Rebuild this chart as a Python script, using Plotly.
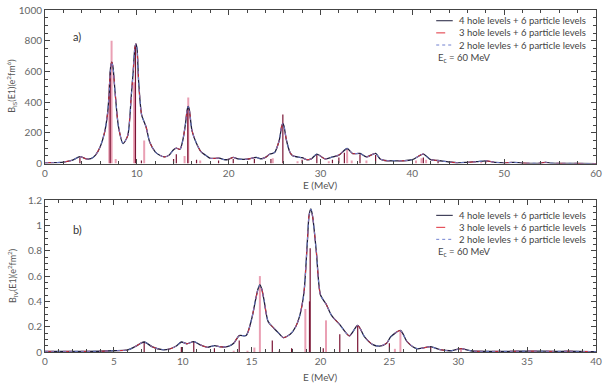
import plotly.graph_objects as go
from plotly.subplots import make_subplots

# ---- panel a) isoscalar strength (read off the picture) ----
is_energy = [0, 1, 2, 3, 3.8, 4.5, 5, 5.5, 6, 6.5, 6.8, 7.0, 7.15, 7.27, 7.4, 7.63, 8, 8.5, 9,
             9.4, 9.6, 9.78, 9.9, 10.02, 10.2, 10.53, 11, 11.4, 12, 12.5, 13, 13.5, 14, 14.3,
             14.7, 15, 15.3, 15.48, 15.6, 15.72, 16, 16.5, 17, 17.5, 18, 19, 19.5, 20, 20.5,
             21, 22, 23, 23.5, 24, 24.5, 25, 25.5, 25.78, 25.9, 26.02, 26.3, 26.7, 27, 28,
             28.5, 29, 29.6, 30.5, 31.3, 32, 32.9, 33.5, 34.3, 35, 36, 36.5, 37, 38, 39, 40,
             41.2, 42, 42.8, 44, 45, 46, 47, 48, 49, 50, 51, 52, 54, 54.5, 55, 58, 60]
is_strength = [5, 6, 10, 22, 45, 30, 32, 55, 108, 206, 320, 466, 630, 660, 630, 466, 240, 130,
               180, 445, 596, 750, 780, 750, 531, 315, 240, 140, 76, 54, 43, 54, 90, 100,
               93, 150, 260, 350, 372, 350, 216, 130, 76, 54, 34, 35, 25, 28, 40,
               30, 28, 40, 30, 40, 62, 72, 150, 245, 262, 245, 150, 70, 50, 38,
               25, 30, 62, 30, 43, 55, 98, 65, 66, 43, 66, 30, 20, 18, 18, 25,
               62, 25, 20, 10, 5, 8, 12, 18, 8, 5, 8, 3, 3, 8, 3, 1, 0]

# sticks, panel a)
is_dark_e = [3.8, 7.1, 9.85, 10.5, 14.0, 14.3, 15.55, 16.5, 18.9, 20.5, 22.8, 24.6, 25.9, 28.0,
             29.6, 31.3, 32.0, 32.6, 34.3, 36.0, 41.2, 42.8]
is_dark_h = [40, 600, 770, 20, 30, 60, 370, 25, 20, 30, 30, 30, 320, 25,
             55, 25, 40, 70, 60, 55, 40, 15]
is_pink_e = [7.0, 7.25, 7.7, 9.7, 10.8, 15.2, 15.6, 16.9, 24.8, 27.5, 30.9, 32.9, 33.4, 35.0,
             40.4, 41.0, 41.5, 47.5, 48.0, 50.5, 54.5]
is_pink_h = [520, 800, 30, 530, 150, 50, 430, 20, 35, 15, 15, 100, 20, 20,
             20, 35, 25, 10, 15, 8, 6]

# ---- panel b) isovector strength ----
iv_energy = [0, 2, 4, 5, 6, 6.5, 7.2, 7.8, 8.5, 9, 9.5, 9.9, 10.3, 10.8, 11.3, 11.8, 12.3, 12.8,
             13.3, 13.7, 14.1, 14.6, 15, 15.3, 15.47, 15.6, 15.73, 15.9, 16.2, 16.6, 17, 17.3,
             17.8, 18.2, 18.5, 18.8, 19.05, 19.17, 19.3, 19.43, 19.7, 20, 20.4, 20.8, 21.4,
             22.1, 22.7, 23.2, 23.8, 24.3, 24.8, 25.1, 25.8, 26.3, 27, 28, 28.6, 29.5, 30.2,
             31, 33, 35.5, 37, 38, 40]
iv_strength = [0.005, 0.005, 0.006, 0.01, 0.016, 0.04, 0.079, 0.04, 0.018, 0.022, 0.045, 0.079,
               0.065, 0.082, 0.055, 0.037, 0.05, 0.04, 0.045, 0.07, 0.13, 0.13, 0.26, 0.42,
               0.5, 0.53, 0.5, 0.41, 0.24, 0.19, 0.145, 0.113, 0.14, 0.2, 0.29, 0.47, 0.88,
               1.08, 1.13, 1.07, 0.79, 0.45, 0.38, 0.29, 0.216, 0.127, 0.21, 0.12, 0.058,
               0.047, 0.07, 0.12, 0.17, 0.08, 0.026, 0.042, 0.02, 0.01, 0.026, 0.008, 0.005,
               0.007, 0.005, 0.006, 0.002]

iv_dark_e = [7.2, 9.9, 10.8, 12.3, 14.1, 16.5, 17.9, 19.2, 19.25, 20.2, 21.4, 22.7, 25.0, 28.0]
iv_dark_h = [0.08, 0.04, 0.08, 0.03, 0.09, 0.09, 0.03, 0.4, 0.82, 0.03, 0.14, 0.21, 0.07, 0.04]
iv_pink_e = [13.7, 14.7, 15.2, 15.6, 17.0, 18.9, 20.4, 25.4, 25.8, 30.2]
iv_pink_h = [0.01, 0.01, 0.035, 0.6, 0.01, 0.34, 0.25, 0.025, 0.17, 0.02]

legend_names = ["4 hole levels + 6 particle levels",
                "3 hole levels + 6 particle levels",
                "2 hole levles + 6 particle levels"]
y_titles = ["B<sub>IS</sub>(E1)(e<sup>2</sup>fm<sup>6</sup>)",
            "B<sub>IV</sub>(E1)(e<sup>2</sup>fm<sup>2</sup>)"]


def sticks(xs, hs):
    sx, sy = [], []
    for x, h in zip(xs, hs):
        sx += [x, x, None]
        sy += [0, h, None]
    return sx, sy


fig = make_subplots(rows=2, cols=1)

line_styles = [dict(color="#1e1e3c", width=1.3),
               dict(color="#e0303c", width=1, dash="dash"),
               dict(color="#7080d0", width=1, dash="dot")]

for row, (ex, ey, de, dh, pe, ph) in enumerate(
        [(is_energy, is_strength, is_dark_e, is_dark_h, is_pink_e, is_pink_h),
         (iv_energy, iv_strength, iv_dark_e, iv_dark_h, iv_pink_e, iv_pink_h)], start=1):
    px_, py_ = sticks(pe, ph)
    fig.add_trace(go.Scatter(x=px_, y=py_, mode="lines", line=dict(color="#eaa0b4", width=2),
                             showlegend=False, hoverinfo="skip"), row=row, col=1)
    px_, py_ = sticks(de, dh)
    fig.add_trace(go.Scatter(x=px_, y=py_, mode="lines", line=dict(color="#7a1434", width=1.2),
                             showlegend=False, hoverinfo="skip"), row=row, col=1)
    for name, st in zip(legend_names, line_styles):
        fig.add_trace(go.Scatter(x=ex, y=ey, mode="lines", name=name, line=st,
                                 line_shape="spline", line_smoothing=0.7,
                                 showlegend=False), row=row, col=1)

axis_common = dict(showline=True, linecolor="#444", linewidth=1, mirror="allticks",
                   ticks="inside", ticklen=5, tickcolor="#444", showgrid=False, zeroline=False,
                   automargin=False, tickfont=dict(size=10, color="#666"))
minor_common = dict(ticks="inside", ticklen=3, tickcolor="#444")

fig.update_xaxes(**axis_common)
fig.update_yaxes(**axis_common)
fig.update_xaxes(range=[0, 60], dtick=10, minor=dict(dtick=2, **minor_common), row=1, col=1)
fig.update_xaxes(range=[0, 40], dtick=5, minor=dict(dtick=1, **minor_common), row=2, col=1)
fig.update_yaxes(range=[0, 1000], dtick=200, minor=dict(dtick=50, **minor_common),
                 domain=[0.551, 1], row=1, col=1)
fig.update_yaxes(range=[0, 1.2], dtick=0.2, minor=dict(dtick=0.05, **minor_common),
                 domain=[0, 0.444], row=2, col=1)

# axis titles, hand-made legends and panel labels
panels = [("x domain", "y domain", "a)", 0.93, -21), ("x2 domain", "y2 domain", "b)", 0.90, -25)]
for row, (xref, yref, tag, y0, tshift) in enumerate(panels):
    fig.add_annotation(x=0.5, y=0, xref=xref, yref=yref, yshift=tshift, text="E (MeV)",
                       showarrow=False, yanchor="middle", font=dict(size=10, color="#555"))
    fig.add_annotation(x=0, y=0.5, xref=xref, yref=yref, xshift=-33, text=y_titles[row],
                       textangle=-90, showarrow=False, xanchor="center",
                       font=dict(size=9, color="#555"))
    fig.add_annotation(x=0.048, y=0.88 - 0.02 * row, xref=xref, yref=yref, text=tag,
                       showarrow=False, xanchor="left", font=dict(size=11, color="#333"))
    for i, (name, st) in enumerate(zip(legend_names, line_styles)):
        yy = y0 - i * 0.079
        fig.add_shape(type="line", xref=xref, yref=yref, x0=0.71, x1=0.74, y0=yy, y1=yy,
                      line=dict(color=st["color"], width=1, dash=st.get("dash", "solid")))
        fig.add_annotation(x=0.748, y=yy, xref=xref, yref=yref, text=name, showarrow=False,
                           xanchor="left", yanchor="middle", font=dict(size=9.5, color="#444"))
    fig.add_annotation(x=0.71, y=y0 - 3 * 0.081, xref=xref, yref=yref,
                       text="E<sub>c</sub> = 60 MeV", showarrow=False,
                       xanchor="left", yanchor="middle", font=dict(size=9.5, color="#444"))

fig.update_layout(width=606, height=386, margin=dict(l=45, r=10, t=10, b=34),
                  paper_bgcolor="white", plot_bgcolor="white",
                  font=dict(family="Lato, sans-serif", size=10, color="#555"),
                  showlegend=False)

# drop the browser's default body margin so the figure sits at the page corner
fig.write_html("out.html", config={"displayModeBar": False},
               post_script="document.body.style.margin='0';")
